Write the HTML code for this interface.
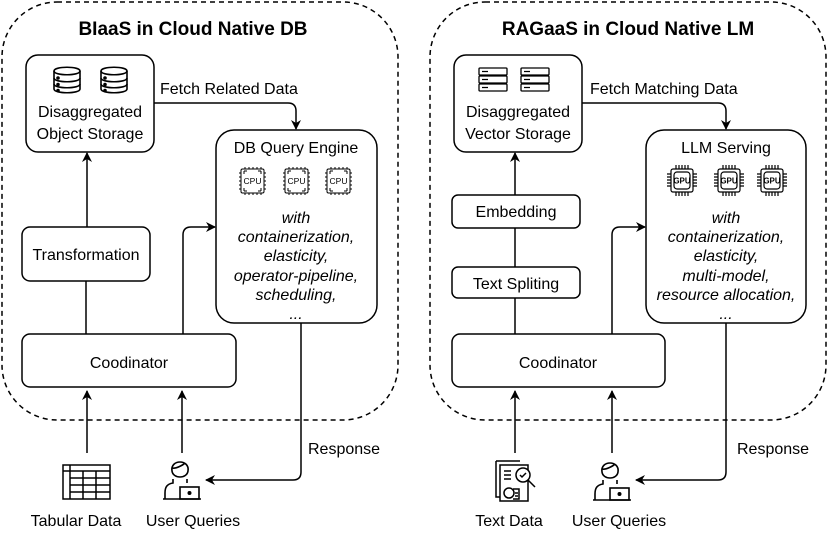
<!DOCTYPE html>
<html><head><meta charset="utf-8"><style>
html,body{margin:0;padding:0;background:#fff;width:830px;height:540px;overflow:hidden}
svg{display:block;font-family:"Liberation Sans",Arial,sans-serif}
</style></head><body>
<svg width="830" height="540" viewBox="0 0 830 540" xmlns="http://www.w3.org/2000/svg">
<defs>
<marker id="ah" markerWidth="10" markerHeight="10" refX="9" refY="5" orient="auto" markerUnits="userSpaceOnUse">
<path d="M0,0 L10,5 L0,10 L3,5 Z" fill="#000"/></marker>
<g id="cyl" fill="#fff" stroke="#000" stroke-width="1.6">
<path d="M0,4 C0,-1 26,-1 26,4 L26,22 C26,27 0,27 0,22 Z"/>
<path d="M0,4 C0,9 26,9 26,4" fill="none"/>
<path d="M0,11 C0,16 26,16 26,11" fill="none"/>
<path d="M0,17 C0,22 26,22 26,17" fill="none"/>
<circle cx="4" cy="11" r="1" fill="#000"/><circle cx="4" cy="17.5" r="1" fill="#000"/><circle cx="4" cy="23.5" r="1" fill="#000"/>
</g>
<g id="rack" fill="none" stroke="#000" stroke-width="1.3">
<rect x="0" y="0" width="28" height="7" rx="1"/><rect x="0" y="8" width="28" height="7" rx="1"/><rect x="0" y="16" width="28" height="7" rx="1"/>
<path d="M3,3.5h6M3,11.5h6M3,19.5h6"/>
</g>
<g id="cpu" fill="none" stroke="#000" stroke-width="1">
<rect x="2" y="2" width="23" height="24" rx="1.5"/>
<path d="M5,4v3M5,4h3M22,4v3M22,4h-3M5,24v-3M5,24h3M22,24v-3M22,24h-3"/>
<path d="M6,0v2M10,0v2M14,0v2M18,0v2M22,0v2M6,26v2M10,26v2M14,26v2M18,26v2M22,26v2M0,6h2M0,10h2M0,14h2M0,18h2M0,22h2M25,6h2M25,10h2M25,14h2M25,18h2M25,22h2"/>
<text x="13.5" y="17" font-size="8.5" text-anchor="middle" fill="#000" stroke="none">CPU</text>
</g>
<g id="gpu" fill="none" stroke="#000" stroke-width="1.2">
<rect x="4" y="4" width="22" height="23" rx="2"/>
<rect x="7" y="7" width="16" height="17" rx="3"/>
<path d="M9,0v4M12,0v4M15,0v4M18,0v4M21,0v4M9,27v4M12,27v4M15,27v4M18,27v4M21,27v4M0,9h4M0,12h4M0,15h4M0,18h4M0,21h4M26,9h4M26,12h4M26,15h4M26,18h4M26,21h4"/>
<text x="15" y="18.5" font-size="8" font-weight="bold" text-anchor="middle" fill="#000" stroke="none">GPU</text>
</g>
<g id="user" fill="none" stroke="#000" stroke-width="1.6">
<path d="M9,14 C7,2 27,2 25,14 C24,22 10,22 9,14 Z"/>
<path d="M9,11 C13,12 20,8 22,6"/>
<path d="M10,22 L10,26 C4,27 2,30 2,36 L2,42 M24,22 L24,26"/>
<rect x="17" y="30" width="19" height="12" fill="#fff"/>
<path d="M0,42 H38"/>
<circle cx="26.5" cy="36" r="1.2" fill="#000"/>
</g>
</defs>
<g fill="none" stroke="#000" stroke-width="1.5">
<rect x="2" y="2" width="396" height="418" rx="55" stroke-dasharray="5,4"/>
<rect x="430" y="2" width="396" height="418" rx="55" stroke-dasharray="5,4"/>
<rect x="26" y="55" width="128" height="97" rx="12"/>
<rect x="216" y="130" width="161" height="193" rx="18"/>
<rect x="22" y="227" width="128" height="54" rx="8"/>
<rect x="22" y="334" width="214" height="53" rx="8"/>
<rect x="454" y="55" width="128" height="97" rx="12"/>
<rect x="646" y="130" width="160" height="193" rx="18"/>
<rect x="452" y="195" width="128" height="33" rx="6"/>
<rect x="452" y="267" width="128" height="31" rx="6"/>
<rect x="452" y="334" width="213" height="53" rx="8"/>
<path d="M154,103 H288 Q296,103 296,111 V129" marker-end="url(#ah)"/>
<path d="M87,227 V153" marker-end="url(#ah)"/>
<path d="M86,281 V334"/>
<path d="M183,334 V235 Q183,227 191,227 H215" marker-end="url(#ah)"/>
<path d="M87,453 V391" marker-end="url(#ah)"/>
<path d="M182,453 V391" marker-end="url(#ah)"/>
<path d="M301,323 V472 Q301,480 293,480 H206" marker-end="url(#ah)"/>
<path d="M582,103 H718 Q726,103 726,111 V129" marker-end="url(#ah)"/>
<path d="M515,195 V153" marker-end="url(#ah)"/>
<path d="M515,228 V267"/>
<path d="M515,298 V334"/>
<path d="M612,334 V235 Q612,227 620,227 H645" marker-end="url(#ah)"/>
<path d="M515,453 V391" marker-end="url(#ah)"/>
<path d="M612,453 V391" marker-end="url(#ah)"/>
<path d="M726,323 V472 Q726,480 718,480 H636" marker-end="url(#ah)"/>
</g>
<use href="#cyl" x="54" y="67"/><use href="#cyl" x="101" y="67"/>
<use href="#rack" x="479" y="68"/><use href="#rack" x="521" y="68"/>
<use href="#cpu" x="239" y="167"/><use href="#cpu" x="283" y="167"/><use href="#cpu" x="325" y="167"/>
<use href="#gpu" x="667" y="165"/><use href="#gpu" x="714" y="165"/><use href="#gpu" x="757" y="165"/>
<use href="#user" x="163" y="457"/><use href="#user" x="593" y="458"/>
<g fill="none" stroke="#000" stroke-width="1.5">
<rect x="63" y="465" width="47" height="34"/>
<path d="M63,471 H110 M70,465 V499 M70,478 H110 M70,485 H110 M70,492 H110 M83,471 V499 M96,471 V499"/>
</g>
<g fill="none" stroke="#000" stroke-width="1.5">
<path d="M496,461 H520 M496,461 V497 H500"/>
<rect x="500" y="465" width="28" height="36" fill="#fff"/>
<path d="M504,471 H511 M504,475 H511 M504,479 H511"/>
<circle cx="523" cy="475" r="7" fill="#fff"/>
<path d="M520,475 l2,2 l4,-4 M528,480 l7,7"/>
<circle cx="509" cy="493" r="5" fill="#fff"/>
<path d="M513,489 H519 V499 H513 M515,493 h3 M515,496 h3"/>
</g>
<g fill="#000" font-size="16" text-anchor="middle">
<text x="193" y="35" font-size="19" font-weight="bold">BIaaS in Cloud Native DB</text>
<text x="628" y="35" font-size="19" font-weight="bold">RAGaaS in Cloud Native LM</text>
<text x="90" y="117">Disaggregated</text>
<text x="90" y="139">Object Storage</text>
<text x="518" y="117">Disaggregated</text>
<text x="518" y="139">Vector Storage</text>
<text x="160" y="94" text-anchor="start">Fetch Related Data</text>
<text x="590" y="94" text-anchor="start">Fetch Matching Data</text>
<text x="296" y="153">DB Query Engine</text>
<text x="726" y="153">LLM Serving</text>
<text x="86" y="260">Transformation</text>
<text x="129" y="368">Coodinator</text>
<text x="516" y="217">Embedding</text>
<text x="516" y="289">Text Spliting</text>
<text x="558" y="368">Coodinator</text>
<g font-style="italic">
<text x="296" y="223">with</text>
<text x="296" y="242">containerization,</text>
<text x="296" y="261">elasticity,</text>
<text x="296" y="281">operator-pipeline,</text>
<text x="296" y="300">scheduling,</text>
<text x="296" y="319">...</text>
<text x="726" y="223">with</text>
<text x="726" y="242">containerization,</text>
<text x="726" y="261">elasticity,</text>
<text x="726" y="281">multi-model,</text>
<text x="726" y="300">resource allocation,</text>
<text x="726" y="319">...</text>
</g>
<text x="308" y="454" text-anchor="start">Response</text>
<text x="737" y="454" text-anchor="start">Response</text>
<text x="76" y="526">Tabular Data</text>
<text x="193" y="526">User Queries</text>
<text x="509" y="526">Text Data</text>
<text x="619" y="526">User Queries</text>
</g>
</svg>
</body></html>
